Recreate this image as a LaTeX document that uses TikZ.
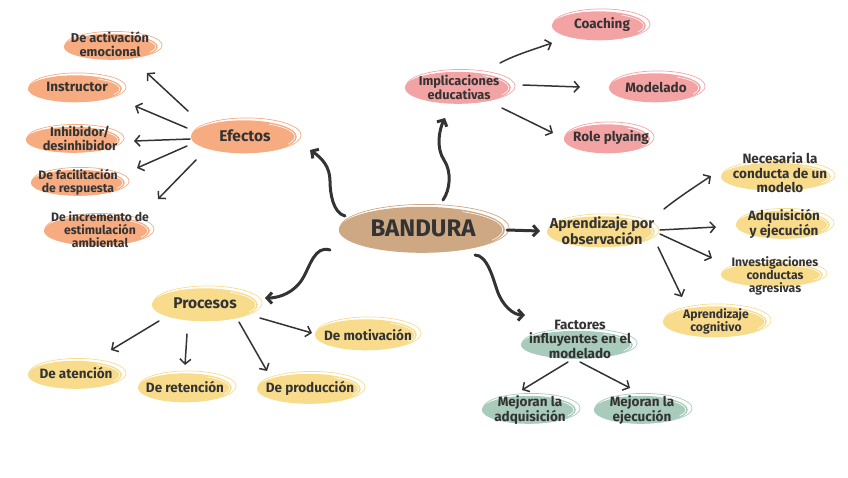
\documentclass[tikz,border=0pt]{standalone}
\usepackage{fontspec}
\setmainfont{Fira Sans}
\usetikzlibrary{arrows.meta}
\definecolor{ink}{HTML}{333333}
\definecolor{corange}{HTML}{F6AB80}
\definecolor{cpink}{HTML}{F4A3A4}
\definecolor{cyellow}{HTML}{F8DC8C}
\definecolor{cgreen}{HTML}{A8CBBC}
\definecolor{cbrown}{HTML}{CDA883}
\newcommand\bubl[8]{%
  \fill[#5] ([shift={(-1.2,0.8)}]#2) ellipse ({#3pt} and {#4pt});
  \draw[#5, line width=0.7pt] ([shift={(1.6,-0.8)}]#2) ellipse ({#3pt+1.5pt} and {#4pt+0.8pt});
  \draw[white, line width=0.6pt] ([shift={(-1.2,0.8)}]#2) ++(-30:{#3pt-2pt} and {#4pt-2pt}) arc (-30:60:{#3pt-2pt} and {#4pt-2pt});
  \node[lbl,#7] (#1) at (#6) {#8};
}
\tikzset{
  lbl/.style={text=ink, align=center, inner sep=0pt, font=\bfseries\fontsize{12.8}{14}\selectfont},
  big/.style={font=\bfseries\fontsize{15.5}{17}\selectfont},
  mid/.style={font=\bfseries\fontsize{13.5}{14.5}\selectfont},
  sml/.style={font=\bfseries\fontsize{12.2}{13}\selectfont},
  arr/.style={draw=ink, line width=1.5pt, line cap=round, -{Straight Barb[length=5pt,width=11pt]}},
  tarr/.style={draw=ink, line width=3pt, line cap=round, -{Straight Barb[length=5pt,width=11pt]}},
}
\begin{document}
\begin{tikzpicture}[x=1pt,y=-1pt]
\useasboundingbox (0,0) rectangle (848,477);
% central
\bubl{bandura}{423,229}{83}{23}{cbrown}{423,228}{font=\bfseries\fontsize{24}{26}\selectfont}{BANDURA}
% Efectos group
\bubl{efectos}{245,136}{53}{16.5}{corange}{245,136}{big}{Efectos}
\bubl{activ}{112,46}{47}{13}{corange}{110,44}{}{De activación\\emocional}
\bubl{instr}{76,88}{47}{13.5}{corange}{77,87}{mid}{Instructor}
\bubl{inhib}{74,139}{47}{13}{corange}{80,138}{}{Inhibidor/\\desinhibidor}
\bubl{facil}{79,182}{47}{13}{corange}{78,182}{sml}{De facilitación\\de respuesta}
\bubl{increm}{98,230}{53}{15}{corange}{100,230}{sml}{De incremento de\\estimulación\\ambiental}
% Implicaciones
\bubl{impl}{459,87}{53}{16}{cpink}{459,87}{}{Implicaciones\\educativas}
\bubl{coach}{600,25}{47}{14.5}{cpink}{602,25}{mid}{Coaching}
\bubl{model}{656,87}{46}{14.5}{cpink}{656,87}{mid}{Modelado}
\bubl{role}{608,138}{43}{14.5}{cpink}{611,138}{mid}{Role plyaing}
% Aprendizaje
\bubl{aprend}{602,231}{54}{15.5}{cyellow}{602,231}{font=\bfseries\fontsize{14.5}{16}\selectfont}{Aprendizaje por\\observación}
\bubl{neces}{777,176}{55}{14}{cyellow}{780,173}{mid}{Necesaria la\\conducta de un\\modelo}
\bubl{adqui}{784,224}{47}{14}{cyellow}{784,224}{mid}{Adquisición\\y ejecución}
\bubl{invest}{773,274}{51}{12}{cyellow}{775,276}{sml}{Investigaciones\\conductas\\agresivas}
\bubl{cognit}{716,321}{52}{15.5}{cyellow}{716,321}{sml}{Aprendizaje\\cognitivo}
% Factores
\bubl{factor}{578,344}{56}{14}{cgreen}{580,339}{mid}{Factores\\influyentes en el\\modelado}
\bubl{mejadq}{530,409}{47}{14}{cgreen}{530,410}{mid}{Mejoran la\\adquisición}
\bubl{mejeje}{642,409}{47}{14}{cgreen}{642,410}{mid}{Mejoran la\\ejecución}
% Procesos
\bubl{proces}{206,304}{53}{16.5}{cyellow}{205,303}{big}{Procesos}
\bubl{motiv}{367,334}{51}{15.5}{cyellow}{368,335}{mid}{De motivación}
\bubl{atenc}{76,374}{47}{14}{cyellow}{76,373}{mid}{De atención}
\bubl{reten}{186,387}{47}{14.5}{cyellow}{185,387}{mid}{De retención}
\bubl{produc}{310,388}{52}{15}{cyellow}{310,388}{mid}{De producción}
% Efectos arrows
\draw[arr] ([shift={(-57,-25)}]efectos.center) -- ([shift={(37,29)}]activ.center);
\draw[arr] ([shift={(-58,-8)}]efectos.center) -- ([shift={(58,19)}]instr.center);
\draw[arr] ([shift={(-55,3)}]efectos.center) -- ([shift={(54,3)}]inhib.center);
\draw[arr] ([shift={(-58,10)}]efectos.center) -- ([shift={(59,-14)}]facil.center);
\draw[arr] ([shift={(-49,24)}]efectos.center) -- ([shift={(58,-31)}]increm.center);
% Implicaciones arrows
\draw[arr] ([shift={(41,-24)}]impl.center) .. controls +(15,-8) and +(-20,7) .. ([shift={(-50,18)}]coach.center);
\draw[arr] ([shift={(64,-2)}]impl.center) -- ([shift={(-76,0)}]model.center);
\draw[arr] ([shift={(43,21)}]impl.center) -- ([shift={(-58,-5)}]role.center);
% Aprendizaje arrows
\draw[arr] ([shift={(62,-22)}]aprend.center) .. controls +(15,-12) and +(-15,10) .. ([shift={(-69,3)}]neces.center);
\draw[arr] ([shift={(58,-1)}]aprend.center) -- ([shift={(-68,3)}]adqui.center);
\draw[arr] ([shift={(58,3)}]aprend.center) -- ([shift={(-63,-18)}]invest.center);
\draw[arr] ([shift={(56,16)}]aprend.center) -- ([shift={(-34,-24)}]cognit.center);
% Procesos arrows
\draw[arr] ([shift={(-46,18)}]proces.center) -- ([shift={(35,-23)}]atenc.center);
\draw[arr] ([shift={(-18,31)}]proces.center) -- ([shift={(0,-22)}]reten.center);
\draw[arr] ([shift={(34,19)}]proces.center) -- ([shift={(-43,-17)}]produc.center);
\draw[arr] ([shift={(55,15)}]proces.center) -- ([shift={(-56,-2)}]motiv.center);
% Factores arrows
\draw[arr] ([shift={(-12,23)}]factor.center) -- ([shift={(-8,-20)}]mejadq.center);
\draw[arr] ([shift={(0,23)}]factor.center) -- ([shift={(-12,-22)}]mejeje.center);
% thick arrows from BANDURA
\draw[tarr] ([shift={(-78,-12)}]bandura.center) .. controls +(-12,-3) and +(0,12) .. ++(-15,-35) .. controls +(0,-14) and +(12,8) .. ([shift={(65,14)}]efectos.center);
\draw[tarr] ([shift={(20,-28)}]bandura.center) .. controls +(7,-10) and +(8,12) .. ++(1,-40) .. controls +(-8,-12) and +(-6,12) .. ([shift={(-14,31)}]impl.center);
\draw[tarr] ([shift={(84,2)}]bandura.center) -- ([shift={(-62,0)}]aprend.center);
\draw[tarr] ([shift={(52,27)}]bandura.center) .. controls +(12,0) and +(-4,-12) .. ++(22,35) .. controls +(5,15) and +(-12,0) .. ([shift={(-55,-24)}]factor.center);
\draw[tarr] ([shift={(-93,22)}]bandura.center) .. controls +(-15,-5) and +(7,-12) .. ++(-27,28) .. controls +(-8,14) and +(15,0) .. ([shift={(60,-5)}]proces.center);
\end{tikzpicture}
\end{document}
